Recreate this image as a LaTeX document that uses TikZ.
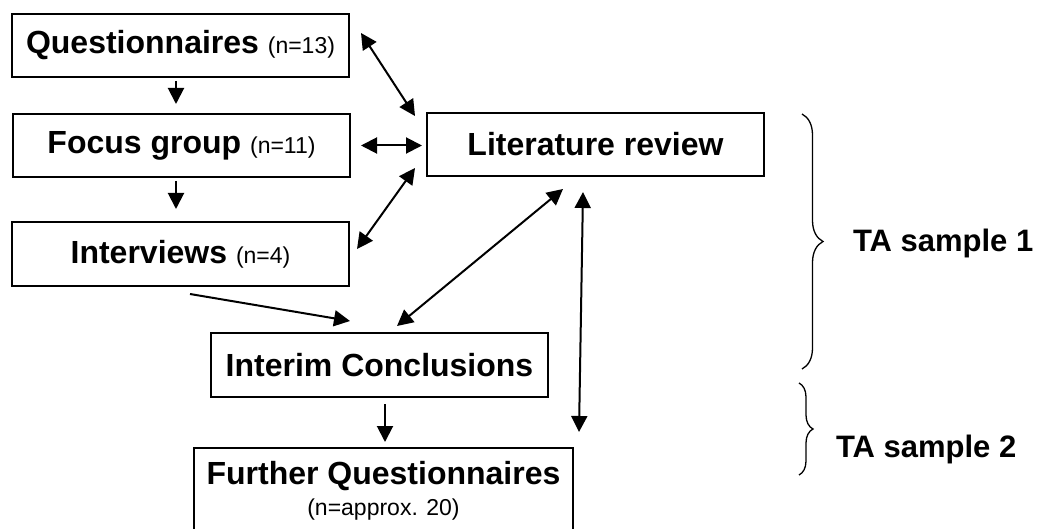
\documentclass[tikz,border=0pt]{standalone}
\usepackage{fontspec}
\setmainfont{Liberation Sans}
\usetikzlibrary{arrows.meta, positioning, calc, decorations.pathreplacing}
\newcommand{\nval}[1]{{\fontsize{23}{28}\selectfont\mdseries #1}}
\tikzset{
  every picture/.style={line width=2pt},
  box/.style={draw, rectangle, inner sep=0pt, minimum width=337pt, minimum height=63pt, align=center, font=\fontsize{32}{36}\selectfont\bfseries},
  arrow/.style={-{Triangle[length=16pt, width=16pt]}},
  twoway/.style={{Triangle[length=16pt, width=16pt]}-{Triangle[length=16pt, width=16pt]}},
  brace/.style={decorate, decoration={brace, amplitude=#1}, line width=1.3pt},
  brace/.default=21pt,
  tag/.style={font=\fontsize{31}{36}\selectfont\bfseries, anchor=base west, inner sep=0pt},
}
\begin{document}
\begin{tikzpicture}[x=1pt, y=-1pt]
  % canvas 1041 x 529, y runs downwards
  \useasboundingbox (0,0) rectangle (1041,529);
  \clip (0,0) rectangle (1041,529);
  \node[box] (quest) at (180.5,45.5) {Questionnaires \nval{(n=13)}};
  \node[box] (focus) at (181.5,145.5) {Focus group \nval{(n=11)}};
  \node[box, minimum height=64pt] (inter) at (180.5,254) {Interviews \nval{(n=4)}};
  \node[box] (lit) at (595.5,144.5) {Literature review};
  \node[box, minimum height=64pt] (interim) at (379.5,365) {Interim Conclusions};
  \node[box, minimum width=379pt, minimum height=86pt, anchor=north] (further) at (383.5,447) {Further Questionnaires\\[-5pt]\nval{(n=approx. 20)}};
  \draw[arrow] ($(quest.south)+(-4.5,3)$) -- ($(focus.north)+(-5.5,-9)$);
  \draw[arrow] ($(focus.south)+(-5.5,3)$) -- ($(inter.north)+(-4.5,-12)$);
  \draw[twoway] ($(quest.east)+(11,-12.5)$) -- ($(lit.north west)+(-11,4)$);
  \draw[twoway] ($(focus.east)+(10,0)$) -- ($(lit.west)+(-4,1)$);
  \draw[twoway] ($(inter.east)+(7,-5)$) -- ($(lit.south west)+(-11,-9)$);
  \draw[arrow] ($(inter.south)+(9.5,7)$) -- ($(interim.north)+(-29.5,-11)$);
  \draw[twoway] ($(lit.south)+(-32.5,12)$) -- ($(interim.north)+(17.5,-6)$);
  \draw[twoway] ($(lit.south)+(-12.5,15)$) -- ($(further.north east)+(5,-15)$);
  \draw[arrow] ($(interim.south)+(5.5,6)$) -- ($(further.north)+(1.5,-5)$);
  % the two sample groups
  \draw[brace] (802,114) -- (802,369);
  \draw[brace=14pt] (799,383) -- (799,475);
  \node[tag] (ta1) at (852,252) {TA sample 1};
  \node[tag] (ta2) at (835,457) {TA sample 2};
\end{tikzpicture}
\end{document}
